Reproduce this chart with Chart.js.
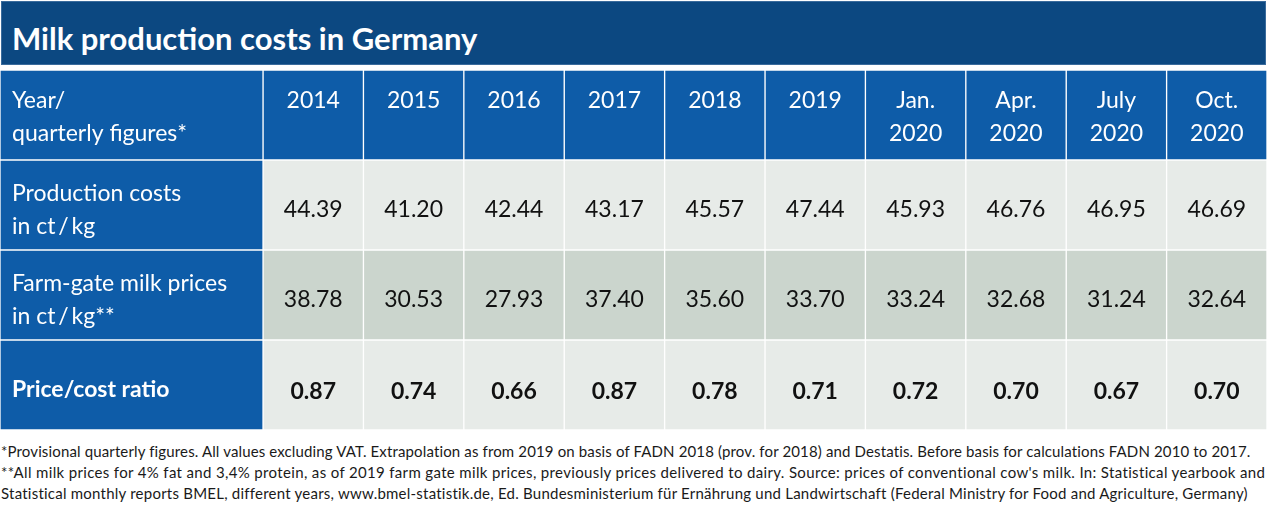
<!DOCTYPE html>
<html lang="en">
<head>
  <meta charset="UTF-8" />
  <title>Milk production costs in Germany</title>
  <script src="https://cdn.jsdelivr.net/npm/chart.js"></script>
  <style>
    * { margin: 0; padding: 0; box-sizing: border-box; }
    body {
      width: 1268px;
      height: 520px;
      background: #fff;
      font-family: 'Lato', sans-serif;
      position: relative;
      overflow: hidden;
    }
    .titulo {
      position: absolute;
      left: 1px;
      top: 1px;
      width: 1265px;
      height: 64px;
      background: #0c4881;
      border: 1px solid #3a6b9c;
      color: #fff;
      font-weight: 700;
      font-size: 31px;
      line-height: 72px;
      padding-left: 10px;
    }
    .tabla {
      position: absolute;
      left: 0;
      top: 70px;
      width: 1267px;
      height: 360px;
    }
    .notas {
      position: absolute;
      left: 1px;
      top: 441px;
      font-size: 15px;
      line-height: 21px;
      color: #1a1a1a;
      white-space: nowrap;
    }
    .notas span { display: block; width: max-content; }
  </style>
</head>
<body>

  <div class="titulo">Milk production costs in Germany</div>

  <div class="tabla">
    <canvas id="tablaChart"></canvas>
  </div>

  <div class="notas">
    <span data-w="1250">*Provisional quarterly figures. All values excluding VAT. Extrapolation as from 2019 on basis of FADN 2018 (prov. for 2018) and Destatis. Before basis for calculations FADN 2010 to 2017.</span>
    <span data-w="1265">**All milk prices for 4% fat and 3,4% protein, as of 2019 farm gate milk prices, previously prices delivered to dairy. Source: prices of conventional cow's milk. In: Statistical yearbook and</span>
    <span data-w="1247">Statistical monthly reports BMEL, different years, www.bmel-statistik.de, Ed. Bundesministerium für Ernährung und Landwirtschaft (Federal Ministry for Food and Agriculture, Germany)</span>
  </div>

  <script>
    // Datos de la tabla
    const rowKeys = ['header', 'costs', 'prices', 'ratio'];
    const rowLabels = [
      ['Year/', 'quarterly figures*'],
      ['Production costs', 'in ct\u2009/\u2009kg'],
      ['Farm-gate milk prices', 'in ct\u2009/\u2009kg**'],
      ['Price/cost ratio']
    ];
    const periods = [
      ['2014'], ['2015'], ['2016'], ['2017'], ['2018'], ['2019'],
      ['Jan.', '2020'], ['Apr.', '2020'], ['July', '2020'], ['Oct.', '2020']
    ];
    const productionCosts = [44.39, 41.20, 42.44, 43.17, 45.57, 47.44, 45.93, 46.76, 46.95, 46.69];
    const milkPrices = [38.78, 30.53, 27.93, 37.40, 35.60, 33.70, 33.24, 32.68, 31.24, 32.64];
    const priceCostRatio = [0.87, 0.74, 0.66, 0.87, 0.78, 0.71, 0.72, 0.70, 0.67, 0.70];

    // Ancho de la primera columna (en unidades de columna)
    const FIRST_W = 2.62;
    const TOTAL_W = FIRST_W + periods.length;

    const BLUE = '#0e5ca8';
    const LIGHT = '#e7ebe8';
    const DARK = '#cbd5cd';

    // Ajustar el espaciado de las notas al ancho del original
    document.querySelectorAll('.notas span').forEach(s => {
      const target = parseFloat(s.dataset.w);
      const n = s.textContent.length;
      s.style.letterSpacing = ((target - s.getBoundingClientRect().width) / n) + 'px';
    });

    // Una serie por columna: barras flotantes horizontales
    const datasets = [{
      label: 'labels',
      data: rowKeys.map(() => [0, FIRST_W]),
      backgroundColor: rowKeys.map(() => BLUE)
    }];
    periods.forEach((p, j) => {
      datasets.push({
        label: p.join(' '),
        data: rowKeys.map(() => [FIRST_W + j, FIRST_W + j + 1]),
        backgroundColor: [BLUE, LIGHT, DARK, LIGHT]
      });
    });

    function fmt(v) { return v.toFixed(2); }

    // Plugin para escribir el texto de cada celda
    const cellText = {
      id: 'cellText',
      afterDatasetsDraw(chart) {
        const { ctx, scales: { x, y } } = chart;
        const rowH = y.getPixelForValue(1) - y.getPixelForValue(0);
        const lineH = 33;
        ctx.save();
        ctx.textBaseline = 'middle';

        rowKeys.forEach((key, r) => {
          const center = y.getPixelForValue(r);
          const top = center - rowH / 2;
          const bold = key === 'ratio';
          ctx.font = (bold ? 'bold ' : '') + '23px Lato';

          // etiqueta de la fila
          ctx.fillStyle = '#fff';
          ctx.textAlign = 'left';
          const lx = x.getPixelForValue(0) + 12;
          const lines = rowLabels[r];
          lines.forEach((t, k) => {
            let ty;
            if (key === 'header') ty = top + 31 + k * lineH;
            else ty = center + 5 + (k - (lines.length - 1) / 2) * lineH;
            ctx.fillText(t, lx, ty);
          });

          // valores
          ctx.textAlign = 'center';
          periods.forEach((p, j) => {
            const cx = x.getPixelForValue(FIRST_W + j + 0.5);
            if (key === 'header') {
              ctx.fillStyle = '#fff';
              p.forEach((t, k) => ctx.fillText(t, cx, top + 31 + k * lineH));
            } else {
              ctx.fillStyle = '#111';
              const vals = key === 'costs' ? productionCosts : key === 'prices' ? milkPrices : priceCostRatio;
              ctx.fillText(fmt(vals[j]), cx, center + 5 + (key === 'ratio' ? 2 : 0));
            }
          });
        });
        ctx.restore();
      }
    };

    new Chart(document.getElementById('tablaChart'), {
      type: 'bar',
      data: { labels: rowKeys, datasets: datasets },
      options: {
        indexAxis: 'y',
        responsive: true,
        maintainAspectRatio: false,
        animation: false,
        layout: { padding: 0 },
        datasets: {
          bar: {
            grouped: false,
            categoryPercentage: 1,
            barPercentage: 1,
            borderWidth: 1,
            borderColor: '#fff',
            borderSkipped: false
          }
        },
        plugins: {
          legend: { display: false },
          tooltip: { enabled: false }
        },
        scales: {
          x: { type: 'linear', min: 0, max: TOTAL_W, display: false },
          y: { type: 'category', display: false }
        }
      },
      plugins: [cellText]
    });
  </script>

</body>
</html>
